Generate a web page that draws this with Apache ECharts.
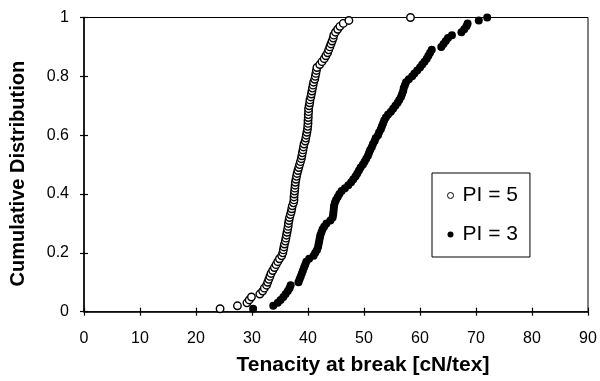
<!DOCTYPE html>
<html>
<head>
<meta charset="utf-8">
<script src="https://cdn.jsdelivr.net/npm/echarts@6/dist/echarts.min.js"></script>
<style>html,body{margin:0;padding:0;background:#fff}#c{width:600px;height:381px}</style>
</head>
<body>
<div id="c"></div>
<script>
// Cumulative probability levels (i/N)
const cdfLevels = [];
for (let i = 1; i <= 100; i++) cdfLevels.push(i / 100);

// Tenacity values [cN/tex], sorted ascending
const pi5Values = [
  24.3, 27.4, 29.1, 29.5, 29.9, 31.4, 31.9, 32.2, 32.6, 32.8,
  33.0, 33.2, 33.4, 33.7, 34.0, 34.3, 34.6, 34.9, 35.3, 35.5,
  35.6, 35.7, 35.8, 35.95, 36.05, 36.15, 36.25, 36.35, 36.45, 36.5,
  36.6, 36.7, 36.85, 37.0, 37.1, 37.2, 37.4, 37.5, 37.5, 37.55,
  37.6, 37.65, 37.7, 37.75, 37.85, 37.95, 38.05, 38.2, 38.35, 38.5,
  38.65, 38.8, 38.9, 39.0, 39.1, 39.2, 39.3, 39.5, 39.6, 39.7,
  39.8, 39.9, 39.95, 40.0, 40.0, 40.05, 40.05, 40.1, 40.1, 40.2,
  40.3, 40.35, 40.5, 40.6, 40.7, 40.8, 40.9, 41.0, 41.2, 41.3,
  41.4, 41.5, 41.6, 42.1, 42.5, 42.9, 43.2, 43.5, 43.7, 43.9,
  44.1, 44.3, 44.5, 44.6, 44.9, 45.3, 45.7, 46.3, 47.3, 58.3
];
const pi3Values = [
  30.2, 33.8, 34.6, 35.1, 35.6, 36.0, 36.4, 36.7, 36.9, 38.3,
  38.5, 38.7, 38.9, 39.1, 39.3, 39.5, 39.7, 40.2, 41.0, 41.3,
  41.6, 41.8, 41.9, 42.0, 42.1, 42.2, 42.4, 42.6, 42.9, 43.3,
  44.0, 44.4, 44.5, 44.55, 44.6, 44.65, 44.8, 45.0, 45.3, 45.6,
  46.0, 46.6, 47.2, 47.7, 48.1, 48.5, 48.8, 49.1, 49.4, 49.8,
  50.1, 50.4, 50.7, 50.9, 51.1, 51.4, 51.6, 51.9, 52.1, 52.5,
  52.7, 53.0, 53.2, 53.4, 53.6, 53.9, 54.3, 54.8, 55.2, 55.6,
  56.0, 56.3, 56.6, 56.8, 57.0, 57.1, 57.3, 57.5, 58.0, 58.6,
  59.0, 59.5, 60.0, 60.4, 60.8, 61.2, 61.5, 61.8, 62.1, 63.8,
  64.2, 64.6, 65.0, 65.7, 67.4, 67.9, 68.3, 68.5, 70.5, 72.0
];
const seriesNames = ['PI = 5', 'PI = 3'];
const xTicks = [0, 10, 20, 30, 40, 50, 60, 70, 80, 90];
const yTicks = ['0', '0.2', '0.4', '0.6', '0.8', '1'];

const pairs = (vals) => vals.map((v, i) => [v, cdfLevels[i]]);
const font = 'Liberation Sans, Arial, Helvetica, sans-serif';

const chart = echarts.init(document.getElementById('c'), null, { renderer: 'canvas' });
const baseX = {
  type: 'value', min: xTicks[0], max: xTicks[xTicks.length - 1], interval: 10,
  gridIndex: 0, position: 'bottom', splitLine: { show: false }
};
const baseY = {
  type: 'value', min: 0, max: 1, interval: 0.2,
  gridIndex: 0, position: 'left', splitLine: { show: false }
};
chart.setOption({
  animation: false,
  backgroundColor: '#fff',
  grid: {
    left: 83, right: 12, top: 17.5, bottom: 69.3,
    show: true, borderColor: '#000', borderWidth: 1, backgroundColor: 'transparent'
  },
  xAxis: [
    Object.assign({}, baseX, {
      name: 'Tenacity at break [cN/tex]', nameLocation: 'middle', nameGap: 43,
      nameTextStyle: { fontFamily: font, fontWeight: 'bold', fontSize: 21, color: '#000',
        padding: [0, 0, 0, 54] },
      axisLine: { show: true, lineStyle: { color: '#000', width: 1.5 } },
      axisTick: { show: true, inside: false, length: 4, lineStyle: { color: '#000', width: 1.2 } },
      axisLabel: { fontFamily: font, fontSize: 16, color: '#000', margin: 19,
        formatter: (v) => String(v) }
    }),
    Object.assign({}, baseX, {
      axisLine: { show: false },
      axisTick: { show: true, inside: true, length: 4, lineStyle: { color: '#000', width: 1.2 } },
      axisLabel: { show: false }
    })
  ],
  yAxis: [
    Object.assign({}, baseY, {
      name: 'Cumulative Distribution', nameLocation: 'middle', nameGap: 56, nameRotate: 90,
      nameTextStyle: { fontFamily: font, fontWeight: 'bold', fontSize: 20, color: '#000',
        padding: [0, 18, 0, 0] },
      axisLine: { show: true, lineStyle: { color: '#000', width: 1.5 } },
      axisTick: { show: true, inside: false, length: 4, lineStyle: { color: '#000', width: 1.2 } },
      axisLabel: { fontFamily: font, fontSize: 16, color: '#000', margin: 15,
        formatter: (v) => yTicks[Math.round(v / 0.2)] }
    }),
    Object.assign({}, baseY, {
      axisLine: { show: false },
      axisTick: { show: true, inside: true, length: 4, lineStyle: { color: '#000', width: 1.2 } },
      axisLabel: { show: false }
    })
  ],
  legend: {
    orient: 'vertical', left: 432, top: 173,
    padding: [12, 12, 12, 15], itemGap: 18,
    borderColor: '#000', borderWidth: 1, backgroundColor: '#fff',
    itemWidth: 6, itemHeight: 6,
    textStyle: { fontFamily: font, fontSize: 21, color: '#000', lineHeight: 20, padding: [0, 0, 0, 4] },
    data: [
      { name: seriesNames[0], icon: 'circle', itemStyle: { color: '#fff', borderColor: '#000', borderWidth: 1 } },
      { name: seriesNames[1], icon: 'circle', itemStyle: { color: '#000', borderWidth: 0 } }
    ]
  },
  series: [
    {
      name: seriesNames[0], type: 'scatter', xAxisIndex: 0, yAxisIndex: 0,
      data: pairs(pi5Values), symbol: 'circle', symbolSize: 7.5,
      itemStyle: { color: '#fff', borderColor: '#000', borderWidth: 1.4, opacity: 1 },
      emphasis: { disabled: true }, z: 3
    },
    {
      name: seriesNames[1], type: 'scatter', xAxisIndex: 0, yAxisIndex: 0,
      data: pairs(pi3Values), symbol: 'circle', symbolSize: 8,
      itemStyle: { color: '#000', borderWidth: 0, opacity: 1 },
      emphasis: { disabled: true }, z: 2
    }
  ]
});
</script>
</body>
</html>
